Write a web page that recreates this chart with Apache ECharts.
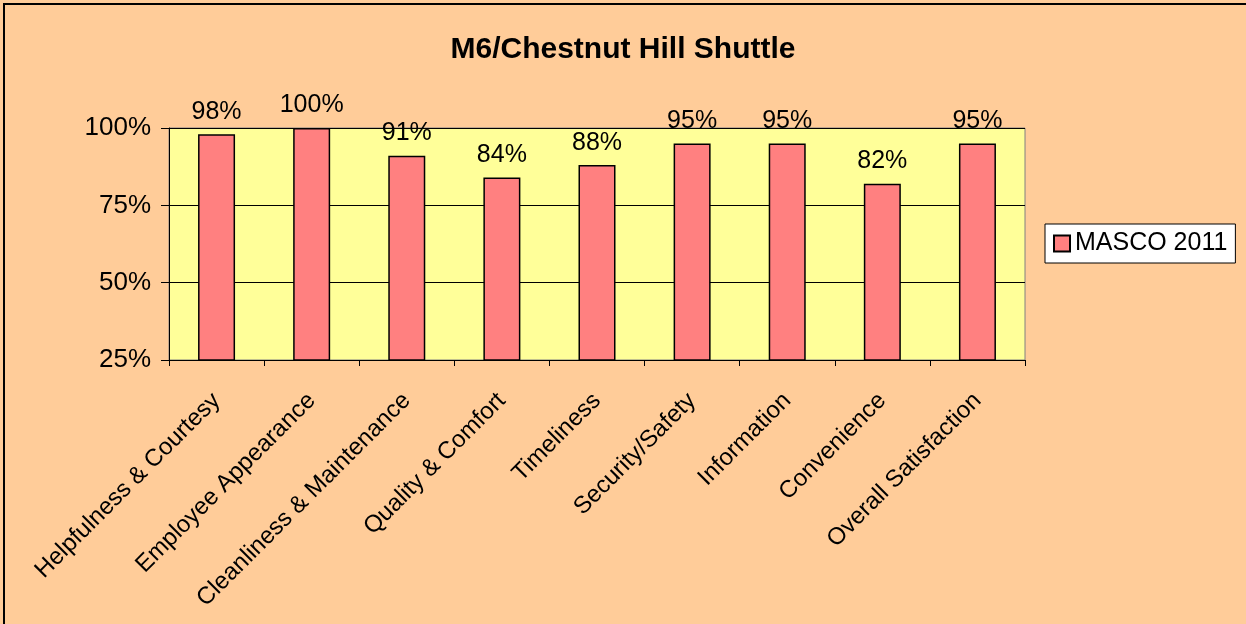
<!DOCTYPE html>
<html>
<head>
<meta charset="utf-8">
<script src="https://cdn.jsdelivr.net/npm/echarts@6/dist/echarts.min.js"></script>
<style>
  html, body { margin: 0; padding: 0; background: #FFCC99; }
  #frame { position: absolute; left: 3px; top: 3px; width: 1243px; height: 621px; border-left: 2px solid #000; border-top: 2px solid #000; box-sizing: border-box; }
  #chart { position: absolute; left: 0; top: 0; width: 1246px; height: 624px; }
</style>
</head>
<body>
<div id="frame"></div>
<div id="chart"></div>
<script>
const categories = ['Helpfulness & Courtesy', 'Employee Appearance', 'Cleanliness & Maintenance', 'Quality & Comfort', 'Timeliness', 'Security/Safety', 'Information', 'Convenience', 'Overall Satisfaction']
const masco2011 = [98, 100, 91, 84, 88, 95, 95, 82, 95]
const seriesName = 'MASCO 2011'
const titleText = 'M6/Chestnut Hill Shuttle'

const font = 'Arial, "Liberation Sans", sans-serif'

let chart = echarts.init(document.getElementById('chart'))
chart.setOption({
  backgroundColor: 'transparent',
  animation: false,
  textStyle: { fontFamily: font, color: '#000' },
  title: {
    text: titleText,
    left: 'center',
    top: 30,
    textStyle: { fontFamily: font, fontSize: 30, fontWeight: 'bold', color: '#000' }
  },
  legend: {
    data: [{ name: seriesName, icon: 'rect' }],
    orient: 'vertical',
    left: 1045,
    top: 224,
    padding: [7, 8, 7, 8],
    backgroundColor: '#fff',
    borderColor: '#000',
    borderWidth: 1,
    borderRadius: 0,
    itemWidth: 16,
    itemHeight: 16,
    itemGap: 0,
    textStyle: { fontFamily: font, fontSize: 25, color: '#000' }
  },
  grid: {
    left: 169,
    right: 221,
    top: 128,
    bottom: 264,
    show: true,
    backgroundColor: '#FFFF99',
    borderColor: '#808080',
    borderWidth: 1,
    containLabel: false
  },
  xAxis: {
    type: 'category',
    data: categories,
    axisLine: { lineStyle: { color: '#000', width: 1 } },
    axisTick: { show: true, length: 6, alignWithLabel: false, lineStyle: { color: '#000' } },
    axisLabel: { rotate: 45, fontSize: 24, color: '#000', fontFamily: font, margin: 37, interval: 0 }
  },
  yAxis: {
    type: 'value',
    min: 25,
    max: 100,
    interval: 25,
    axisLine: { show: true, lineStyle: { color: '#000', width: 1 } },
    axisTick: { show: true, length: 8, lineStyle: { color: '#000' } },
    splitLine: { lineStyle: { color: '#000', width: 1 } },
    axisLabel: { formatter: '{value}%', fontSize: 26, color: '#000', fontFamily: font, margin: 18 }
  },
  series: [{
    name: seriesName,
    type: 'bar',
    data: masco2011,
    barWidth: 37,
    itemStyle: { color: '#FF8080', borderColor: '#000', borderWidth: 1.5 },
    label: {
      show: true,
      position: 'top',
      distance: 10,
      formatter: '{c}%',
      fontSize: 25,
      color: '#000',
      fontFamily: font
    }
  }]
})
</script>
</body>
</html>
